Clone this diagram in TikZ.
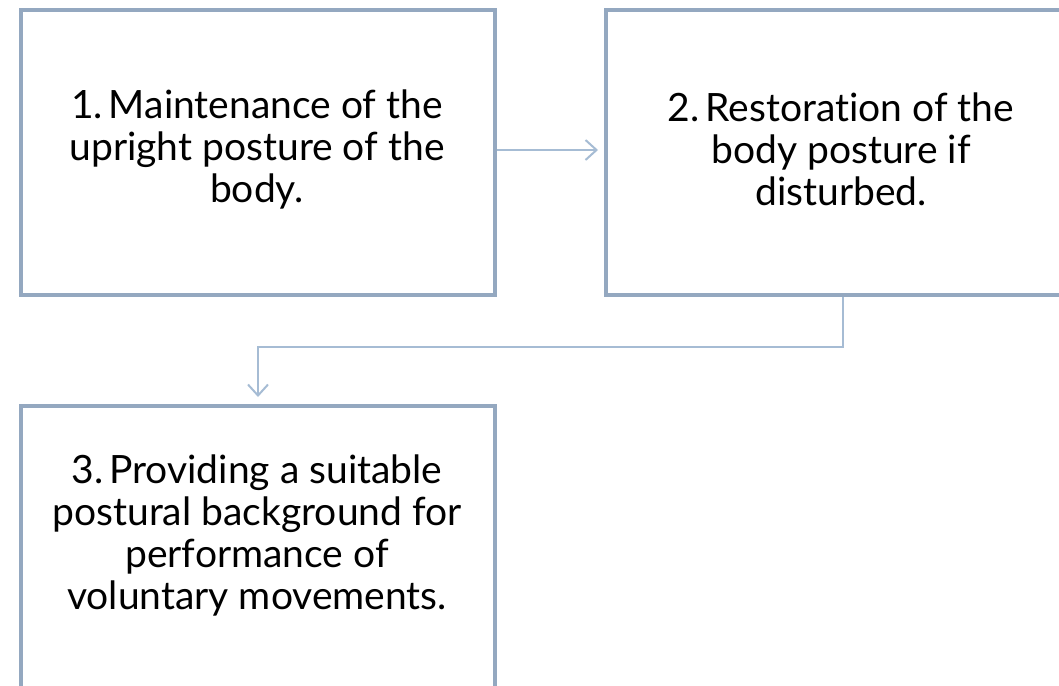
\documentclass[tikz,border=0pt]{standalone}
\usepackage{fontspec}
\setmainfont{Lato}[Ligatures=NoCommon]
\usetikzlibrary{arrows.meta}
\definecolor{boxline}{RGB}{148,168,192}
\definecolor{conline}{RGB}{166,188,212}
\tikzset{
  box/.style={draw=boxline, line width=4pt, minimum width=474pt, minimum height=285pt, inner sep=0pt, anchor=north west},
  txt/.style={align=center, font=\fontsize{39}{42}\selectfont, text=black, inner sep=0pt},
  con/.style={draw=conline, line width=2pt, -{Straight Barb[length=11pt,width=20pt,line width=2pt]}}
}
\begin{document}
\begin{tikzpicture}[x=1pt,y=-1pt]
\useasboundingbox (0,0) rectangle (1059,685);
\clip (0,0) rectangle (1059,685);
\node[box] (b1) at (19,8) {};
\node[box] (b2) at (604,8) {};
\node[box] (b3) at (19,404) {};
\node[txt] (t1) at (257,149) {1.\kern6pt Maintenance of the\\upright posture of the\\body.};
\node[txt] (t2) at (841,149) {2.\kern6pt Restoration of the\\body posture if\\disturbed.};
\node[txt] (t3) at (257,535) {3.\kern6pt Providing a suitable\\postural background for\\performance of\\voluntary movements.};
\coordinate (a1) at (b1.east |- 0,150);
\coordinate (a2) at (598,150);
\draw[con] (a1) -- (a2);
\coordinate (c1) at (b2.south);
\coordinate (c3) at (258,397);
\draw[con] (c1) -- (c1 |- 0,347) -| (c3);
\end{tikzpicture}
\end{document}
